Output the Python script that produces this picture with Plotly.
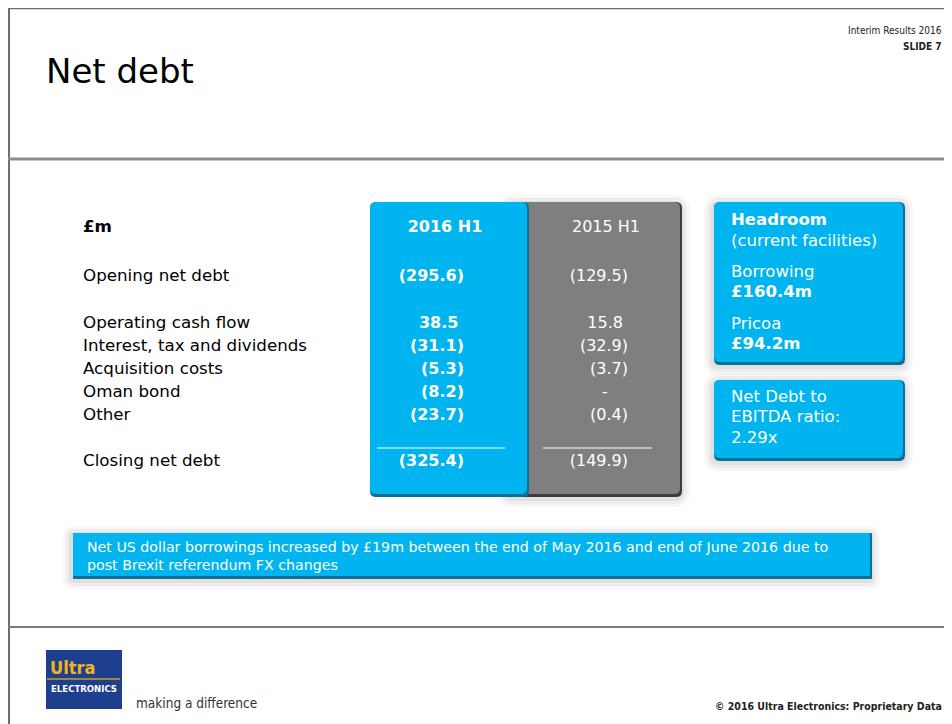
import plotly.graph_objects as go

# ---------------- data ----------------
row_labels = ["Opening net debt", "Operating cash flow", "Interest, tax and dividends",
              "Acquisition costs", "Oman bond", "Other", "Closing net debt"]
values_2016 = [-295.6, 38.5, -31.1, -5.3, -8.2, -23.7, -325.4]
values_2015 = [-129.5, 15.8, -32.9, -3.7, None, -0.4, -149.9]
col_headers = ["2016 H1", "2015 H1"]
unit_label = "£m"

headroom_lines = ["<b>Headroom</b>", "(current facilities)", "Borrowing", "<b>£160.4m</b>",
                  "Pricoa", "<b>£94.2m</b>"]
ratio_lines = ["Net Debt to", "EBITDA ratio:", "2.29x"]
note_text = ("Net US dollar borrowings increased by £19m between the end of May 2016 and end of June 2016 due to"
             "<br>post Brexit referendum FX changes")

# ---------------- layout helpers ----------------
FONT = "DejaVu Sans"
COND = "DejaVu Sans Condensed"
BLUE = "#00B4F0"
BLUE_DARK = "#0B6F96"
GREY = "#7F7F7F"
GREY_DARK = "#3C3C3C"

row_y = [275, 322, 345, 368, 391, 414, 460]
header_y = 226
headroom_y = [219, 240, 271, 291, 323, 343]
ratio_y = [396, 416, 437]
DY = 2  # text baseline adjustment


def fmt(v):
    if v is None:
        return "-\u00a0\u00a0\u00a0\u00a0"
    if v < 0:
        return f"({abs(v):.1f})"
    return f"{v:.1f}\u00a0"


def rrect(x0, y0, x1, y1, r):
    return (f"M{x0+r},{y0} L{x1-r},{y0} Q{x1},{y0} {x1},{y0+r} L{x1},{y1-r} Q{x1},{y1} {x1-r},{y1} "
            f"L{x0+r},{y1} Q{x0},{y1} {x0},{y1-r} L{x0},{y0+r} Q{x0},{y0} {x0+r},{y0} Z")


shapes = []


def add_box(x0, y0, x1, y1, fill, dark, r=6, glow=True):
    if glow:
        for i, op in [(10, 0.03), (7, 0.04), (4, 0.05)]:
            shapes.append(dict(type="path", path=rrect(x0 - i, y0 - i + 3, x1 + i, y1 + i + 3, r + i),
                               fillcolor=f"rgba(0,0,0,{op})", line=dict(width=0), layer="below"))
    shapes.append(dict(type="path", path=rrect(x0, y0, x1 + 2, y1 + 3, r),
                       fillcolor=dark, line=dict(width=0), layer="below"))
    shapes.append(dict(type="path", path=rrect(x0, y0, x1, y1, r),
                       fillcolor=fill, line=dict(width=0), layer="below"))


# frame and separators
shapes.append(dict(type="line", x0=8, y0=8.5, x1=960, y1=8.5, line=dict(color="#6E6E6E", width=1.5)))
shapes.append(dict(type="line", x0=9, y0=8, x1=9, y1=730, line=dict(color="#6E6E6E", width=2)))
shapes.append(dict(type="line", x0=8, y0=159, x1=960, y1=159, line=dict(color="#8C8C8C", width=3)))
shapes.append(dict(type="line", x0=8, y0=627, x1=960, y1=627, line=dict(color="#7A7A7A", width=2)))

# table columns
add_box(508, 202, 680, 494, GREY, GREY_DARK)
add_box(370, 202, 527, 494, BLUE, BLUE_DARK, glow=False)
# right boxes
add_box(714, 202, 903, 362, BLUE, BLUE_DARK)
add_box(714, 380, 903, 458, BLUE, BLUE_DARK)
# note box
add_box(73, 533, 870, 576, BLUE, BLUE_DARK, r=1)

# underline above closing
shapes.append(dict(type="line", x0=377, y0=448, x1=505, y1=448, line=dict(color="white", width=1.2)))
shapes.append(dict(type="line", x0=543, y0=448, x1=652, y1=448, line=dict(color="white", width=1.2)))

# logo
shapes.append(dict(type="rect", x0=46, y0=650, x1=122, y1=709, fillcolor="#1E3F8E", line=dict(width=0)))
shapes.append(dict(type="line", x0=47, y0=679, x1=120, y1=679, line=dict(color="#C9A227", width=1.5)))

fig = go.Figure()

LABEL_SIZE = 16.7


def ys(lst):
    return [v + DY for v in lst]


# row labels
fig.add_trace(go.Scatter(x=[83] * (len(row_labels) + 1), y=ys([header_y] + row_y),
                         text=[f"<b>{unit_label}</b>"] + row_labels, mode="text",
                         textposition="middle right",
                         textfont=dict(family=FONT, size=LABEL_SIZE, color="black"), hoverinfo="skip"))
# 2016 column
fig.add_trace(go.Scatter(x=[445], y=ys([header_y]), text=[f"<b>{col_headers[0]}</b>"], mode="text",
                         textposition="middle center",
                         textfont=dict(family=FONT, size=16, color="white"), hoverinfo="skip"))
fig.add_trace(go.Scatter(x=[464] * len(values_2016), y=ys(row_y),
                         text=[f"<b>{fmt(v)}</b>" for v in values_2016], mode="text",
                         textposition="middle left",
                         textfont=dict(family=FONT, size=16, color="white"), hoverinfo="skip"))
# 2015 column
fig.add_trace(go.Scatter(x=[606], y=ys([header_y]), text=[col_headers[1]], mode="text",
                         textposition="middle center",
                         textfont=dict(family=FONT, size=16, color="white"), hoverinfo="skip"))
fig.add_trace(go.Scatter(x=[628] * len(values_2015), y=ys(row_y),
                         text=[fmt(v) for v in values_2015], mode="text",
                         textposition="middle left",
                         textfont=dict(family=FONT, size=16, color="white"), hoverinfo="skip"))
# right boxes text
fig.add_trace(go.Scatter(x=[731] * len(headroom_lines), y=ys(headroom_y), text=headroom_lines, mode="text",
                         textposition="middle right",
                         textfont=dict(family=FONT, size=16.5, color="white"), hoverinfo="skip"))
fig.add_trace(go.Scatter(x=[731] * len(ratio_lines), y=ys(ratio_y), text=ratio_lines, mode="text",
                         textposition="middle right",
                         textfont=dict(family=FONT, size=16.5, color="white"), hoverinfo="skip"))

annotations = [
    dict(x=44, y=71, text="Net debt", xanchor="left", yanchor="middle", showarrow=False,
         font=dict(family=FONT, size=34, color="black")),
    dict(x=944, y=30, text="Interim Results 2016", xanchor="right", yanchor="middle", showarrow=False,
         font=dict(family=COND, size=10, color="#222")),
    dict(x=944, y=46, text="<b>SLIDE 7</b>", xanchor="right", yanchor="middle", showarrow=False,
         font=dict(family=COND, size=10, color="#222")),
    dict(x=85, y=556, text=note_text, xanchor="left", yanchor="middle", showarrow=False,
         align="left", font=dict(family=FONT, size=14.2, color="white")),
    dict(x=48, y=667, text="<b>Ultra</b>", xanchor="left", yanchor="middle", showarrow=False,
         font=dict(family=COND, size=18, color="#F2B51C")),
    dict(x=84, y=688, text="<b>ELECTRONICS</b>", xanchor="center", yanchor="middle", showarrow=False,
         font=dict(family=COND, size=9.5, color="white")),
    dict(x=134, y=703, text="making a difference", xanchor="left", yanchor="middle", showarrow=False,
         font=dict(family=COND, size=13.5, color="#333")),
    dict(x=944, y=706, text="<b>© 2016 Ultra Electronics: Proprietary Data</b>", xanchor="right",
         yanchor="middle", showarrow=False, font=dict(family=COND, size=10.5, color="#222")),
]

# page has an 8px body margin: figure spans page pixels 8..952 / 8..724
fig.update_layout(
    width=944, height=716, margin=dict(l=0, r=0, t=0, b=0),
    paper_bgcolor="white", plot_bgcolor="white", showlegend=False,
    xaxis=dict(range=[8, 952], visible=False, fixedrange=True),
    yaxis=dict(range=[724, 8], visible=False, fixedrange=True),
    shapes=shapes, annotations=annotations,
)

fig.write_html("out.html")
